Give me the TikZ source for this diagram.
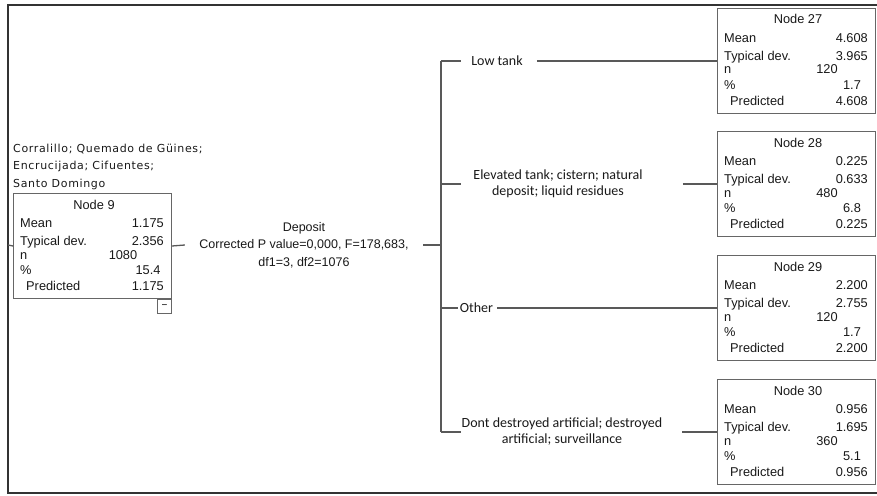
\documentclass[tikz,border=0pt]{standalone}
\usepackage{fontspec}
\setmainfont{Liberation Sans}
\newfontfamily\brfont{Carlito}
\newfontfamily\regfont[LetterSpace=6]{DejaVu Sans}
\usetikzlibrary{calc}
\tikzset{
  frameline/.style={draw=black!80, line width=1.6pt},
  conn/.style={draw=black!65, line width=1.3pt},
  statbox/.style={draw=black!60, line width=1pt, minimum width=158pt, minimum height=105pt, anchor=north west, inner sep=0pt, fill=white},
  st/.style={font=\fontsize{12.8}{14}\selectfont, inner sep=0pt, text=black!90},
  lab/.style={font=\brfont\fontsize{14}{16}\selectfont, align=center, inner sep=0pt, text=black!90},
  deplab/.style={font=\fontsize{12.5}{17.5}\selectfont, align=center, inner sep=0pt, text=black!90},
  reglab/.style={font=\regfont\fontsize{11}{17.5}\selectfont, align=left, inner sep=0pt, text=black!90},
}
\newcommand\statnode[9]{%
  \node[statbox] (#1) at (#2,#3) {};
  \node[st, anchor=base] (#1-t) at ($(#1.north west)+(81,16)$) {Node #4};
  \node[st, anchor=base west] (#1-l1) at ($(#1.north west)+(7,34)$) {Mean};
  \node[st, anchor=base east] (#1-v1) at ($(#1.north east)+(-8,34)$) {#5};
  \node[st, anchor=base west] (#1-l2) at ($(#1.north west)+(7,52)$) {Typical dev.};
  \node[st, anchor=base east] (#1-v2) at ($(#1.north east)+(-8,52)$) {#6};
  \node[st, anchor=base west] (#1-l3) at ($(#1.north west)+(7,66)$) {n};
  \node[st, anchor=base] (#1-v3) at ($(#1.north west)+(110,66)$) {#7};
  \node[st, anchor=base west] (#1-l4) at ($(#1.north west)+(7,81)$) {\%};
  \node[st, anchor=base] (#1-v4) at ($(#1.north west)+(135,81)$) {#8};
  \node[st, anchor=base west] (#1-l5) at ($(#1.north west)+(13,97)$) {Predicted};
  \node[st, anchor=base east] (#1-v5) at ($(#1.north east)+(-8,97)$) {#9};
}
\begin{document}
\begin{tikzpicture}[x=1pt, y=-1pt]
  \useasboundingbox (0,0) rectangle (877,495);
  % outer frame
  \draw[frameline] (877,5) -- (8,5) -- (8,493) -- (877,493);
  \coordinate (fl) at (8,245);

  % region label
  \node[reglab, anchor=north west] (reg) at (13,143.5) {Corralillo; Quemado de Güines;\\Encrucijada; Cifuentes;\\Santo Domingo};

  % nodes
  \statnode{n9}{13}{193}{9}{1.175}{2.356}{1080}{15.4}{1.175}
  \node[draw=black!60, line width=0.9pt, minimum size=14pt, inner sep=0pt, anchor=north east, font=\fontsize{10}{10}\selectfont] (n9c) at (n9.south east) {−};
  \statnode{n27}{717}{8}{27}{4.608}{3.965}{120}{1.7}{4.608}
  \statnode{n28}{717}{131}{28}{0.225}{0.633}{480}{6.8}{0.225}
  \statnode{n29}{717}{255}{29}{2.200}{2.755}{120}{1.7}{2.200}
  \statnode{n30}{717}{379}{30}{0.956}{1.695}{360}{5.1}{0.956}

  % split label
  \node[deplab, minimum width=238pt] (dep) at (304,245) {Deposit\\Corrected P value=0,000, F=178,683,\\df1=3, df2=1076};
  \coordinate (bj) at (441,245);
  \coordinate (b1) at (441,61);
  \coordinate (b2) at (441,184);
  \coordinate (b3) at (441,308);
  \coordinate (b4) at (441,432);

  \draw[conn] (fl) -- (n9.west);
  \draw[conn] (n9.east) -- (dep.west);
  \draw[conn] (dep.east) -- (bj);
  \draw[conn] (b1) -- (b4);

  % branch labels
  \node[lab] (lt) at (497,61) {Low tank};
  \node[lab] (el) at (558,184) {Elevated tank; cistern; natural\\deposit; liquid residues};
  \node[lab] (ot) at (476.5,308) {Other};
  \node[lab] (dd) at (562,432) {Dont destroyed artificial; destroyed\\artificial; surveillance};

  \draw[conn] (b1) -- ([xshift=-10pt]lt.west);
  \draw[conn] ([xshift=14pt]lt.east) -- (n27.west |- b1);
  \draw[conn] (b2) -- ([xshift=-12pt]el.west);
  \draw[conn] ([xshift=40pt]el.east) -- (n28.west |- b2);
  \draw[conn] (b3) -- ([xshift=-2pt]ot.west);
  \draw[conn] ([xshift=4pt]ot.east) -- (n29.west |- b3);
  \draw[conn] (b4) -- ([xshift=-1pt]dd.west);
  \draw[conn] ([xshift=20pt]dd.east) -- (n30.west |- b4);
\end{tikzpicture}
\end{document}
